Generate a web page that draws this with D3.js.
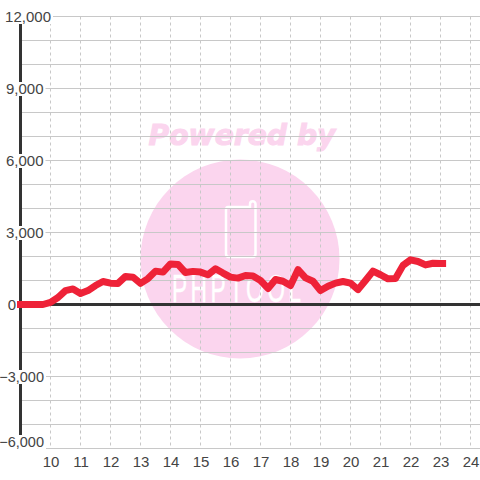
<!DOCTYPE html>
<html><head><meta charset="utf-8">
<script src="https://cdn.jsdelivr.net/npm/d3@7/dist/d3.min.js"></script>
<style>html,body{margin:0;padding:0;background:#fff}svg{display:block}text{font-family:"Liberation Sans",Arial,sans-serif}</style>
</head><body><svg id="c" width="480" height="480"></svg>
<script>
const hours=[9,9.25,9.5,9.75,10,10.25,10.5,10.75,11,11.25,11.5,11.75,12,12.25,12.5,12.75,13,13.25,13.5,13.75,14,14.25,14.5,14.75,15,15.25,15.5,15.75,16,16.25,16.5,16.75,17,17.25,17.5,17.75,18,18.25,18.5,18.75,19,19.25,19.5,19.75,20,20.25,20.5,20.75,21,21.25,21.5,21.75,22,22.25,22.5,22.75,23,23.07];
const values=[0,0,0,0,90,290,580,650,460,580,790,960,890,880,1170,1140,880,1080,1390,1350,1690,1670,1330,1380,1350,1240,1490,1310,1140,1100,1210,1190,1000,670,1040,970,790,1450,1110,970,580,760,890,960,890,620,1000,1390,1240,1070,1080,1630,1860,1790,1650,1720,1710,1710];
const xTicks=[10,11,12,13,14,15,16,17,18,19,20,21,22,23,24];
const yLabelTicks=[12000,9000,6000,3000,0,-3000,-6000];
const yGridTicks=[12000,11000,10000,9000,8000,7000,6000,5000,4000,3000,2000,1000,0,-1000,-2000,-3000,-4000,-5000,-6000];
const watermarkTop="Powered by";
const watermarkBottom="PHPTOOL";

const svg=d3.select("#c");
const x=d3.scaleLinear().domain([9,24]).range([20.5,470.5]);
const y=d3.scaleLinear().domain([-6000,12000]).range([448.5,16.5]);
const pink="#fbd5ee", grid="#c8c8c8", dark="#333333", ink="#444444";

svg.append("rect").attr("width",480).attr("height",480).attr("fill","#fff");

// watermark
const wm=svg.append("g");
wm.append("circle").attr("cx",240).attr("cy",259).attr("r",99.5).attr("fill",pink);
wm.append("text").attr("x",242).attr("y",144.5).attr("text-anchor","middle").attr("fill",pink)
  .attr("stroke",pink).attr("stroke-width",1)
  .attr("font-size",29).attr("font-weight","bold").attr("font-style","italic")
  .style("font-family","'DejaVu Sans',sans-serif").attr("textLength",187).attr("lengthAdjust","spacingAndGlyphs").text(watermarkTop);
wm.append("path").attr("d","M228,207 H250 V204 A2.5,2.5 0 0 1 255.5,204 V254 Q255.5,257 252.5,257 H229 Q226,257 226,254 V210 Q226,207 228,207 Z")
  .attr("fill","none").attr("stroke","#fff").attr("stroke-width",2.5);
wm.append("text").attr("transform","translate(172,302) scale(0.6,1)").attr("fill","#fff").attr("stroke","#fff").attr("stroke-width",0.5)
  .attr("font-size",38).style("letter-spacing","5.7px").text(watermarkBottom);

// grid
svg.append("g").selectAll("line").data(yGridTicks).join("line")
  .attr("x1",x(9)).attr("x2",480).attr("y1",d=>y(d)).attr("y2",d=>y(d))
  .attr("stroke",grid).attr("stroke-width",1);
svg.append("g").selectAll("line").data(xTicks).join("line")
  .attr("x1",d=>x(d)).attr("x2",d=>x(d)).attr("y1",y(12000)).attr("y2",y(-6000))
  .attr("stroke",grid).attr("stroke-width",1).attr("stroke-dasharray","3,3");

// axes
svg.append("line").attr("x1",x(9)).attr("x2",x(9)).attr("y1",y(12000)).attr("y2",y(-6000))
  .attr("stroke",dark).attr("stroke-width",3);
svg.append("line").attr("x1",x(9)).attr("x2",480).attr("y1",y(0)).attr("y2",y(0))
  .attr("stroke",dark).attr("stroke-width",3);

// y labels with white background
const fmt=d3.format(",");
const labelY=d=>d===-6000?y(d)-1.5:y(d)+5.5;
const labelX=d=>d===0?16:(d===12000?51:d<0?44:43.5);
const labelW=d=>d===0?10:d<0?42:d===12000?46:38;
const yl=svg.append("g").selectAll("g").data(yLabelTicks).join("g");
yl.append("rect").attr("x",d=>labelX(d)-labelW(d)).attr("y",d=>labelY(d)-12)
  .attr("width",d=>labelW(d)+2).attr("height",14).attr("fill","#fff");
yl.append("text").attr("x",labelX).attr("y",labelY)
  .attr("text-anchor","end").attr("font-size",d=>d<0?14.5:15).attr("fill",ink).text(d=>fmt(d));

// x labels
svg.append("g").selectAll("text").data(xTicks).join("text")
  .attr("x",d=>x(d)+0.5).attr("y",466.5).attr("text-anchor","middle").attr("font-size",15).attr("fill",ink).text(d=>d);

// series
const line=d3.line().x((d,i)=>x(hours[i])).y(d=>y(d));
svg.append("path").datum(values).attr("d",line).attr("fill","none").attr("stroke","#ee2238")
  .attr("stroke-width",7).attr("stroke-linecap","square").attr("stroke-linejoin","round");
</script></body></html>
